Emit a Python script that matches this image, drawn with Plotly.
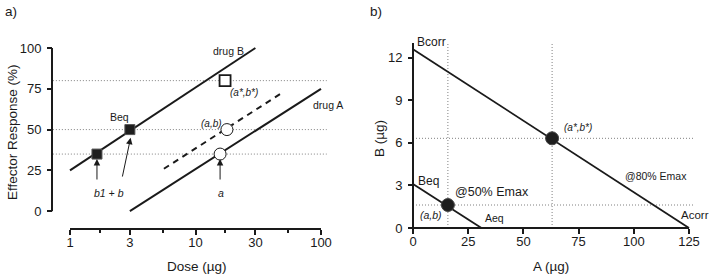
import numpy as np
import plotly.graph_objects as go

W, H = 713, 274

# ---------------- Panel a data ----------------
drugB_dose = [1, 30]
drugB_resp = [25, 100]
drugA_dose = [3, 100]
drugA_resp = [0, 75]
mix_dose = [5.6, 50]
mix_resp = [26, 73]
filled_sq_dose = [1.64, 3]
filled_sq_resp = [35, 50]
open_circ_dose = [15.7, 17.8]
open_circ_resp = [35, 50]
open_sq_dose = [17.2]
open_sq_resp = [80]
ref_levels = [35, 50, 80]
a_xticks = [1, 3, 10, 30, 100]
a_xminor = [1.732, 5.477, 17.32, 54.77]
a_yticks = [0, 25, 50, 75, 100]

# ---------------- Panel b data ----------------
iso80_A = [0, 125]
iso80_B = [12.6, 0]
iso50_A = [0, 31]
iso50_B = [3.1, 0]
pts_A = [15.8, 63]
pts_B = [1.62, 6.32]
b_xticks = [0, 25, 50, 75, 100, 125]
b_yticks = [0, 3, 6, 9, 12]

FONT = "Liberation Sans, Arial, sans-serif"
INK = "#1a1a1a"
DOT = "#808080"
DOTDASH = "1px,2px"


def px(x):
    return x / W


def py(y):
    return 1 - y / H


fig = go.Figure()

# panel a traces
for lv in ref_levels:
    fig.add_trace(go.Scatter(x=[0.73, 111], y=[lv, lv], mode="lines",
                             line=dict(color=DOT, width=1, dash=DOTDASH),
                             xaxis="x", yaxis="y", hoverinfo="skip"))
fig.add_trace(go.Scatter(x=drugB_dose, y=drugB_resp, mode="lines",
                         line=dict(color=INK, width=2), xaxis="x", yaxis="y"))
fig.add_trace(go.Scatter(x=drugA_dose, y=drugA_resp, mode="lines",
                         line=dict(color=INK, width=2), xaxis="x", yaxis="y"))
fig.add_trace(go.Scatter(x=mix_dose, y=mix_resp, mode="lines",
                         line=dict(color=INK, width=2, dash="6px,5px"), xaxis="x", yaxis="y"))
fig.add_trace(go.Scatter(x=filled_sq_dose, y=filled_sq_resp, mode="markers",
                         marker=dict(symbol="square", size=10, color="#1e1e1e",
                                     line=dict(color="#555", width=1)),
                         xaxis="x", yaxis="y"))
fig.add_trace(go.Scatter(x=open_circ_dose, y=open_circ_resp, mode="markers",
                         marker=dict(symbol="circle", size=12, color="white",
                                     line=dict(color=INK, width=1)),
                         xaxis="x", yaxis="y"))
fig.add_trace(go.Scatter(x=open_sq_dose, y=open_sq_resp, mode="markers",
                         marker=dict(symbol="square", size=11, color="white",
                                     line=dict(color=INK, width=1.8)),
                         xaxis="x", yaxis="y"))

# panel b traces
for A, B in zip(pts_A, pts_B):
    fig.add_trace(go.Scatter(x=[A, A], y=[0, 13.03], mode="lines",
                             line=dict(color=DOT, width=1, dash=DOTDASH),
                             xaxis="x2", yaxis="y2"))
    fig.add_trace(go.Scatter(x=[0, 127], y=[B, B], mode="lines",
                             line=dict(color=DOT, width=1, dash=DOTDASH),
                             xaxis="x2", yaxis="y2"))
fig.add_trace(go.Scatter(x=iso80_A, y=iso80_B, mode="lines",
                         line=dict(color=INK, width=1.8), xaxis="x2", yaxis="y2"))
fig.add_trace(go.Scatter(x=iso50_A, y=iso50_B, mode="lines",
                         line=dict(color=INK, width=1.8), xaxis="x2", yaxis="y2"))
fig.add_trace(go.Scatter(x=pts_A, y=pts_B, mode="markers",
                         marker=dict(symbol="circle", size=13, color="#1e1e1e",
                                     line=dict(color="#444", width=1)),
                         xaxis="x2", yaxis="y2"))

# axis lines as shapes
shapes = [
    dict(type="line", xref="x", yref="y", x0=0.719, x1=0.719, y0=0, y1=100,
         line=dict(color=INK, width=2)),
    dict(type="line", xref="x", yref="y", x0=1, x1=100, y0=-10.9, y1=-10.9,
         line=dict(color=INK, width=2)),
    dict(type="line", xref="x2", yref="y2", x0=0, x1=0, y0=0, y1=13.03,
         line=dict(color=INK, width=2)),
    dict(type="line", xref="x2", yref="y2", x0=0, x1=125, y0=0, y1=0,
         line=dict(color=INK, width=2)),
]

ann = []


def txt(x, y, t, size=11, xref="x", yref="y", italic=False, xanchor="center", **kw):
    if italic:
        t = "<i>" + t + "</i>"
    ann.append(dict(x=x, y=y, xref=xref, yref=yref, text=t, showarrow=False,
                    xanchor=xanchor, yanchor="middle",
                    font=dict(family=FONT, size=size, color=INK), **kw))


def arrow(x, y, axv, ayv, xref="x", yref="y"):
    ann.append(dict(x=x, y=y, ax=axv, ay=ayv, xref=xref, yref=yref,
                    axref=xref, ayref=yref, text="", showarrow=True,
                    arrowhead=2, arrowsize=1.3, arrowwidth=1, arrowcolor=INK))


L = np.log10
# panel a labels
txt(L(18.2), 98, "drug B", size=10.5)
txt(L(24.3), 73, "(a*,b*)", size=10, italic=True)
txt(L(113), 65, "drug A", size=10.5)
txt(L(2.5), 57.7, "Beq", size=10.5)
txt(L(13.5), 54, "(a,b)", size=10, italic=True)
txt(L(2.05), 11.2, "b1 + b", size=10.5, italic=True)
txt(L(15.9), 11.2, "a", size=10.5, italic=True)
arrow(L(1.64), 32, L(1.64), 18.5)
arrow(L(3.04), 45, L(2.6), 20.3)
arrow(L(15.7), 32, L(15.7), 18.5)

# panel b labels
txt(8.2, 13.1, "Bcorr", size=12, xref="x2", yref="y2")
txt(74.7, 7.1, "(a*,b*)", size=10, xref="x2", yref="y2", italic=True)
txt(110, 3.66, "@80% Emax", size=10.5, xref="x2", yref="y2")
txt(px(711), py(215), "Acorr", size=11.5, xref="paper", yref="paper", xanchor="right")
txt(6.8, 3.3, "Beq", size=12, xref="x2", yref="y2")
txt(35.8, 2.54, "@50% Emax", size=12.5, xref="x2", yref="y2")
txt(8.2, 0.92, "(a,b)", size=10.5, xref="x2", yref="y2", italic=True)
txt(36.7, 0.7, "Aeq", size=10.5, xref="x2", yref="y2")

# titles / panel tags
txt(px(12), py(132), "Effector Response (%)", size=13.5, xref="paper", yref="paper", textangle=-90)
txt(px(197), py(266), "Dose (µg)", size=13.5, xref="paper", yref="paper")
txt(px(379), py(138), "B (µg)", size=13.5, xref="paper", yref="paper", textangle=-90)
txt(px(551), py(266), "A (µg)", size=13.5, xref="paper", yref="paper")
txt(px(11), py(11), "a)", size=13.5, xref="paper", yref="paper")
txt(px(376), py(11), "b)", size=13.5, xref="paper", yref="paper")

tickfont = dict(family=FONT, size=13, color=INK)

fig.update_layout(
    width=W, height=H, margin=dict(l=0, r=0, t=0, b=0),
    paper_bgcolor="white", plot_bgcolor="white", showlegend=False,
    font=dict(family=FONT, color=INK),
    shapes=shapes, annotations=ann,
    xaxis=dict(type="log", domain=[px(44), px(334)],
               range=[(44 - 70) / 125.5, (334 - 70) / 125.5],
               anchor="free", position=py(229),
               tickvals=a_xticks, ticktext=[str(v) for v in a_xticks],
               ticks="outside", ticklen=5, tickwidth=1.5, tickcolor=INK,
               minor=dict(tickvals=a_xminor, ticks="outside", ticklen=3,
                          tickwidth=1.5, tickcolor=INK, showgrid=False),
               ticklabelstandoff=-4,
               showgrid=False, zeroline=False, showline=False, tickfont=tickfont),
    yaxis=dict(domain=[py(236), py(36)], range=[-15.2, 107.35],
               anchor="free", position=px(52),
               tickvals=a_yticks, ticks="outside", ticklen=5, tickwidth=1.5,
               ticklabelstandoff=3,
               tickcolor=INK, showgrid=False, zeroline=False, showline=False,
               tickfont=tickfont),
    xaxis2=dict(domain=[px(405), px(705)],
                range=[(405 - 413) / 2.208, (705 - 413) / 2.208],
                anchor="free", position=py(228),
                tickvals=b_xticks, ticks="outside", ticklen=5, tickwidth=1.5,
                ticklabelstandoff=-4,
                tickcolor=INK, showgrid=False, zeroline=False, showline=False,
                tickfont=tickfont),
    yaxis2=dict(domain=[py(236), py(36)],
                range=[(228 - 236) / 14.19, (228 - 36) / 14.19],
                anchor="free", position=px(413),
                tickvals=b_yticks, ticks="outside", ticklen=5, tickwidth=1.5,
                ticklabelstandoff=3,
                tickcolor=INK, showgrid=False, zeroline=False, showline=False,
                tickfont=tickfont),
)

fig.write_html("out.html", config={"displayModeBar": False},
               post_script="document.body.style.margin='0';document.body.style.overflow='hidden';")
